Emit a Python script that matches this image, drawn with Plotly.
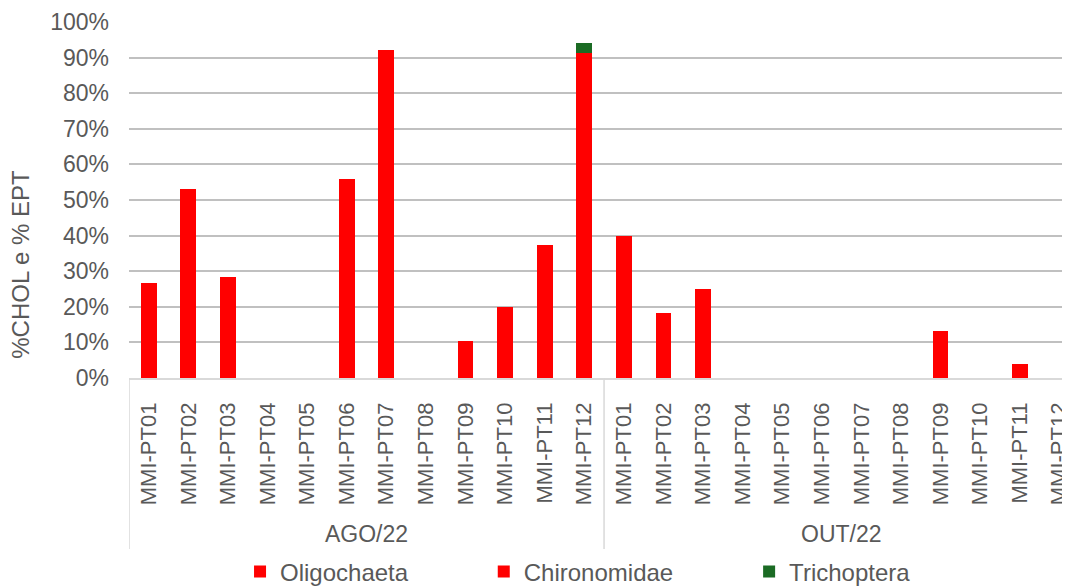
import plotly.graph_objects as go

months = ["AGO/22", "OUT/22"]
points = [f"MMI-PT{i:02d}" for i in range(1, 13)]
categories = [f"{m} {p}" for m in months for p in points]
tick_labels = points * 2

oligochaeta = [0.0] * 24
chironomidae = [0.266, 0.532, 0.285, 0, 0, 0.559, 0.922, 0, 0.104, 0.199, 0.374, 0.912,
                0.400, 0.182, 0.249, 0, 0, 0, 0, 0, 0.133, 0, 0.039, 0]
trichoptera = [0, 0, 0, 0, 0, 0, 0, 0, 0, 0, 0, 0.029,
               0, 0, 0, 0, 0, 0, 0, 0, 0, 0, 0, 0]

series = [("Oligochaeta", oligochaeta, "#FF0000", "legend"),
          ("Chironomidae", chironomidae, "#FF0000", "legend2"),
          ("Trichoptera", trichoptera, "#1B6B24", "legend3")]

TXT = "#595959"
font = "Liberation Sans, Arial, sans-serif"

fig = go.Figure()
for name, vals, col, lg in series:
    fig.add_trace(go.Bar(x=categories, y=vals, name=name, legend=lg, showlegend=True,
                         marker=dict(color=col, line=dict(width=0))))

# group dividers and labels
for xpos in [-0.5, 11.5]:
    fig.add_shape(type="line", xref="x", yref="paper", x0=xpos, x1=xpos,
                  y0=0, y1=-0.48, line=dict(color="#D9D9D9", width=1.5))
for i, m in enumerate(months):
    fig.add_annotation(x=5.5 + 12 * i, xref="x", y=-0.4385, yref="paper",
                       text=m, showarrow=False, yanchor="middle",
                       font=dict(size=23, color=TXT, family=font))

fig.add_annotation(x=-108 / 941, xref="paper", y=0.318, yref="paper",
                   text="%CHOL e % EPT", textangle=-90, showarrow=False,
                   xanchor="center", yanchor="middle",
                   font=dict(size=24, color=TXT, family=font))

leg_common = dict(orientation="h", yanchor="middle", y=-0.545, xanchor="left",
                  font=dict(size=24, color=TXT, family=font), bgcolor="rgba(0,0,0,0)")
fig.update_layout(
    barmode="stack", bargap=0.6, showlegend=True,
    width=1070, height=595,
    margin=dict(l=121, r=8, t=14, b=223),
    plot_bgcolor="white", paper_bgcolor="white",
    font=dict(family=font, size=22, color=TXT),
    legend=dict(x=0.118, **leg_common),
    legend2=dict(x=0.377, **leg_common),
    legend3=dict(x=0.659, **leg_common),
    xaxis=dict(type="category", categoryorder="array", categoryarray=categories,
               tickmode="array", tickvals=categories, ticktext=tick_labels,
               range=[-0.5, 23.27], tickangle=-90, automargin=False,
               showline=True, linecolor="#D9D9D9", linewidth=1.5, ticks="",
               ticklabelstandoff=14, tickfont=dict(size=22, color=TXT), showgrid=False),
    yaxis=dict(range=[0, 1], dtick=0.1, tickformat=".0%", showgrid=True,
               gridcolor="#C0C0C0", gridwidth=1.5, zeroline=False, automargin=False,
               ticklabelstandoff=19, tickfont=dict(size=23, color=TXT)),
)
fig.write_html("out.html")
